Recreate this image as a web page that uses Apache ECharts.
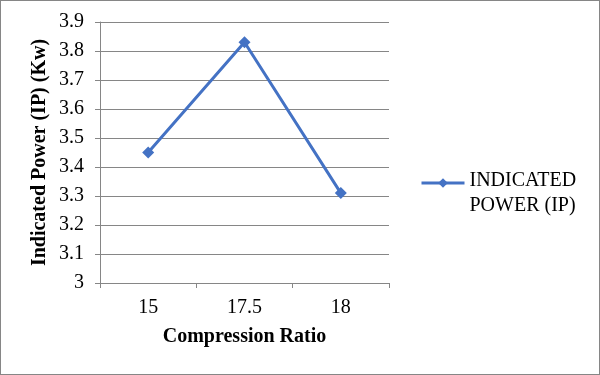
<!DOCTYPE html>
<html><head><meta charset="utf-8">
<script src="https://cdn.jsdelivr.net/npm/echarts@6/dist/echarts.min.js"></script>
<style>html,body{margin:0;padding:0;background:#fff}#c{width:600px;height:375px;box-sizing:border-box;border:1px solid #868686}</style>
</head><body><div id="c"></div>
<script>
var categories = ['15', '17.5', '18'];
var ipValues = [3.45, 3.83, 3.31];
var seriesName = 'INDICATED POWER (IP)';
var legendLines = ['INDICATED', 'POWER (IP)'];
var chart = echarts.init(document.getElementById('c'));
var font = 'Liberation Serif';
chart.setOption({
  animation: false,
  grid: {left: 99, top: 21, width: 289, height: 261},
  legend: {
    orient: 'vertical', left: 419, top: 147, padding: 0,
    itemWidth: 43, itemHeight: 12, itemGap: 4,
    formatter: function () { return '{h| }\n{a|' + legendLines[0] + '}\n{a|' + legendLines[1] + '}'; },
    textStyle: {fontFamily: font, fontSize: 20, color: '#000',
      rich: {
        h: {fontFamily: font, fontSize: 20, lineHeight: 21},
        a: {fontFamily: font, fontSize: 20, lineHeight: 25, color: '#000'}
      }},
    data: [{name: seriesName, lineStyle: {width: 3}}]
  },
  xAxis: {
    type: 'category', data: categories, boundaryGap: true,
    axisLine: {lineStyle: {color: '#868686', width: 1}},
    axisTick: {show: true, length: 5, inside: false, lineStyle: {color: '#868686'}},
    axisLabel: {fontFamily: font, fontSize: 20, color: '#000', margin: 15},
    name: 'Compression Ratio', nameLocation: 'middle', nameGap: 44,
    nameTextStyle: {fontFamily: font, fontSize: 20, fontWeight: 'bold', color: '#000'}
  },
  yAxis: {
    type: 'value', min: 3, max: 3.9, interval: 0.1,
    axisLine: {show: true, lineStyle: {color: '#868686', width: 1}},
    axisTick: {show: true, length: 5, lineStyle: {color: '#868686'}},
    splitLine: {lineStyle: {color: '#868686', width: 1}},
    axisLabel: {fontFamily: font, fontSize: 20, color: '#000', margin: 16,
      formatter: function (v) { return String(Math.round(v * 10) / 10); }},
    name: 'Indicated Power (IP) (Kw)', nameLocation: 'middle', nameGap: 50, nameRotate: 90,
    nameTextStyle: {fontFamily: font, fontSize: 20, fontWeight: 'bold', color: '#000'}
  },
  series: [{
    name: seriesName, type: 'line', data: ipValues,
    symbol: 'diamond', symbolSize: 12,
    lineStyle: {color: '#4472C4', width: 3},
    itemStyle: {color: '#4472C4'}
  }]
});
</script></body></html>
